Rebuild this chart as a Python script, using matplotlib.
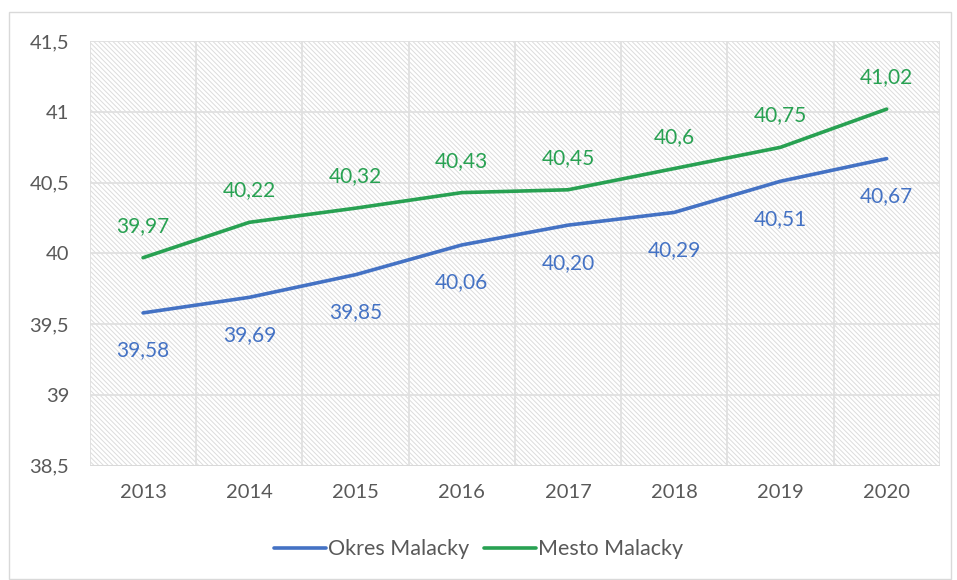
import matplotlib
matplotlib.use("Agg")
import matplotlib.pyplot as plt
from matplotlib.patches import Rectangle

years = [2013, 2014, 2015, 2016, 2017, 2018, 2019, 2020]
okres = [39.58, 39.69, 39.85, 40.06, 40.20, 40.29, 40.51, 40.67]
mesto = [39.97, 40.22, 40.32, 40.43, 40.45, 40.60, 40.75, 41.02]
okres_labels = ["39,58", "39,69", "39,85", "40,06", "40,20", "40,29", "40,51", "40,67"]
mesto_labels = ["39,97", "40,22", "40,32", "40,43", "40,45", "40,6", "40,75", "41,02"]
yticks = [38.5, 39, 39.5, 40, 40.5, 41, 41.5]
ytick_labels = ["38,5", "39", "39,5", "40", "40,5", "41", "41,5"]

BLUE = "#4472C4"
GREEN = "#28A152"
TEXT = "#595959"

plt.rcParams["font.family"] = ["Lato", "DejaVu Sans"]
plt.rcParams["hatch.color"] = "#dcdcdc"
plt.rcParams["hatch.linewidth"] = 0.7

fig = plt.figure(figsize=(9.57, 5.8), dpi=100)
fig.patches.append(Rectangle((0.009, 0.002), 0.985, 0.977, transform=fig.transFigure,
                             fill=False, edgecolor="#d9d9d9", linewidth=1))
ax = fig.add_axes([0.094, 0.197, 0.888, 0.732])

x = list(range(len(years)))
ax.set_xlim(-0.5, len(years) - 0.5)
ax.set_ylim(38.5, 41.5)

# hatched background
ax.add_patch(Rectangle((0, 0), 1, 1, transform=ax.transAxes, facecolor="white",
                       edgecolor="#dcdcdc", hatch="\\" * 7, linewidth=0, zorder=0))

for v in yticks:
    ax.axhline(v, color="#e0e0e0", linewidth=1.3, zorder=1)
for i in range(len(years) + 1):
    ax.axvline(i - 0.5, color="#e0e0e0", linewidth=1.3, zorder=1)

ax.plot(x, okres, color=BLUE, linewidth=2.6, solid_capstyle="round", zorder=3, label="Okres Malacky")
ax.plot(x, mesto, color=GREEN, linewidth=2.6, solid_capstyle="round", zorder=3, label="Mesto Malacky")

for i in x:
    ax.annotate(okres_labels[i], (i, okres[i]), xytext=(0, -27), textcoords="offset points",
                ha="center", va="center", color=BLUE, fontsize=15)
    ax.annotate(mesto_labels[i], (i, mesto[i]), xytext=(0, 23), textcoords="offset points",
                ha="center", va="center", color=GREEN, fontsize=15)

ax.set_xticks(x)
ax.set_xticklabels([str(y) for y in years])
ax.set_yticks(yticks)
ax.set_yticklabels(ytick_labels)
ax.tick_params(axis="both", length=0, labelsize=14.5, labelcolor=TEXT)
ax.tick_params(axis="x", pad=13)
ax.tick_params(axis="y", pad=15)
for s in ax.spines.values():
    s.set_visible(False)
ax.axhline(38.5, color="#d9d9d9", linewidth=1.3, zorder=2)

leg = fig.legend(loc="center", bbox_to_anchor=(0.5, 0.053), ncol=2, frameon=False,
                 fontsize=15.5, handlelength=2.4, handletextpad=0.1, columnspacing=0.7)
for t in leg.get_texts():
    t.set_color(TEXT)

fig.savefig("out.png", dpi=100)
